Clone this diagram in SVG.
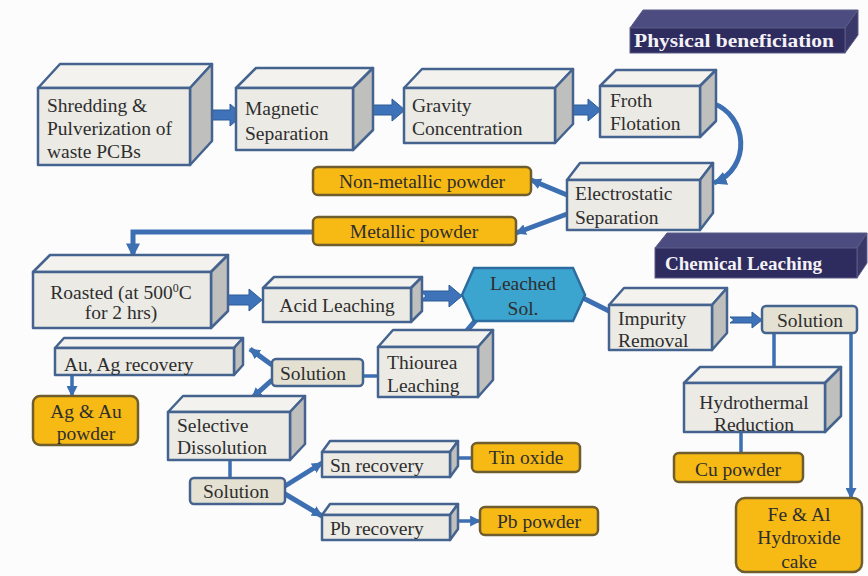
<svg xmlns="http://www.w3.org/2000/svg" width="868" height="576" viewBox="0 0 868 576">
<defs>
<style>
.fr{fill:#ebeae4;stroke:#44638f;stroke-width:2.5;stroke-linejoin:round}
.tp{fill:#f3f2ee;stroke:#44638f;stroke-width:2.5;stroke-linejoin:round}
.sd{fill:#bfbfbd;stroke:#44638f;stroke-width:2.5;stroke-linejoin:round}
.nf{fill:#2e2b5e;stroke:#5a5a86;stroke-width:1}
.nt{fill:#4d4c80;stroke:#5a5a86;stroke-width:1}
.ns{fill:#3a3868;stroke:#5a5a86;stroke-width:1}
.or{fill:#f7b913;stroke:#6e5d2f;stroke-width:2.5}
.so{fill:#e4e1d3;stroke:#44638f;stroke-width:2.5}
.t{font-family:'Liberation Serif','DejaVu Serif','Times New Roman',serif;font-size:19.5px;fill:#2e2e2e}
.c{text-anchor:middle}
.w{font-family:'Liberation Serif','DejaVu Serif','Times New Roman',serif;font-size:19px;font-weight:bold;fill:#f4f2f6}
.ln{fill:none;stroke:#3d6fb3;stroke-width:5;stroke-linecap:butt}
.th{fill:none;stroke:#3d6fb3;stroke-width:3.5}
.ba{fill:#3f73b9;stroke:#2d5a96;stroke-width:1}
</style>
<marker id="ah" viewBox="0 0 10 10" refX="9" refY="5" markerWidth="11" markerHeight="11" markerUnits="userSpaceOnUse" orient="auto">
<path d="M0,0 L10,5 L0,10 z" fill="#3d6fb3"/>
</marker>
<marker id="ahb" viewBox="0 0 10 10" refX="9" refY="5" markerWidth="14" markerHeight="14" markerUnits="userSpaceOnUse" orient="auto">
<path d="M0,0 L10,5 L0,10 z" fill="#3d6fb3"/>
</marker>
</defs>
<rect width="868" height="576" fill="#fcfcfc"/>

<g id="connectors">
<polygon class="ba" points="197,110 230,110 230,104 243,115 230,126 230,120 197,120 203,115"/>
<polygon class="ba" points="363,105 392,105 392,99 405,110 392,121 392,115 363,115 369,110"/>
<polygon class="ba" points="564,105 588,105 588,99 601,110 588,121 588,115 564,115 570,110"/>
<polygon class="ba" points="218,295 249,295 249,289 262,300 249,311 249,305 218,305 224,300"/>
<polygon class="ba" points="420,291 449,291 449,285 462,296 449,307 449,301 420,301 426,296"/>
<polygon class="ba" points="730,317 752,317 752,312 762,320 752,328 752,323 730,323 734,320"/>
<path class="ln" d="M712,103 C748,115 752,168 714,183" marker-end="url(#ahb)"/>
<path class="ln" d="M567,195 L531,180" marker-end="url(#ah)"/>
<path class="ln" d="M567,214 L516,233" marker-end="url(#ah)"/>
<path class="ln" d="M313,232 L133,232 L133,256" marker-end="url(#ahb)"/>
<path class="ln" d="M583,298 L609,311"/>
<path class="ln" d="M476,320 L458,341" marker-end="url(#ah)"/>
<path class="th" d="M378,376 L363,376"/>
<path class="ln" d="M272,365 L250,349" marker-end="url(#ah)"/>
<path class="ln" d="M272,380 L252,398" marker-end="url(#ah)"/>
<path class="th" d="M72,375 L72,396" marker-end="url(#ah)"/>
<path class="th" d="M230,460 L230,478"/>
<path class="ln" d="M285,486 L322,463" marker-end="url(#ah)"/>
<path class="ln" d="M285,494 L322,516" marker-end="url(#ah)"/>
<path class="th" d="M458,458 L472,458"/>
<path class="th" d="M458,521 L480,521" marker-end="url(#ah)"/>
<path class="th" d="M774,332 L774,378" marker-end="url(#ah)"/>
<path class="th" d="M851,332 L851,498" marker-end="url(#ah)"/>
<path class="th" d="M741,432 L741,453"/>
</g>

<g id="physical-beneficiation">
<polygon class="nt" points="630,28 643,10 858,10 845,28"/>
<polygon class="ns" points="845,28 858,10 858,35 845,53"/>
<rect class="nf" x="630" y="28" width="215" height="25"/>
<text class="w" x="634" y="47" textLength="200" lengthAdjust="spacingAndGlyphs">Physical beneficiation</text>
</g>

<g id="chemical-leaching">
<polygon class="nt" points="655,248 667,233 867,233 857,248"/>
<polygon class="ns" points="857,248 867,233 867,263 857,278"/>
<rect class="nf" x="655" y="248" width="202" height="30"/>
<text class="w" x="665" y="270" textLength="157" lengthAdjust="spacingAndGlyphs">Chemical Leaching</text>
</g>

<g id="shredding">
<polygon class="tp" points="38,88 60,64 212,64 190,88"/>
<polygon class="sd" points="190,88 212,64 212,141 190,165"/>
<rect class="fr" x="38" y="88" width="152" height="77"/>
<text class="t" x="47" y="112">Shredding &amp;</text>
<text class="t" x="47" y="135">Pulverization of</text>
<text class="t" x="47" y="158">waste PCBs</text>
</g>

<g id="magnetic">
<polygon class="tp" points="236,88 256,68 373,68 353,88"/>
<polygon class="sd" points="353,88 373,68 373,130 353,150"/>
<rect class="fr" x="236" y="88" width="117" height="62"/>
<text class="t" x="245" y="115">Magnetic</text>
<text class="t" x="245" y="140">Separation</text>
</g>

<g id="gravity">
<polygon class="tp" points="404,88 422,69 573,69 555,88"/>
<polygon class="sd" points="555,88 573,69 573,124 555,143"/>
<rect class="fr" x="404" y="88" width="151" height="55"/>
<text class="t" x="412" y="112">Gravity</text>
<text class="t" x="412" y="135">Concentration</text>
</g>

<g id="froth">
<polygon class="tp" points="600,86 616,70 716,70 700,86"/>
<polygon class="sd" points="700,86 716,70 716,121 700,137"/>
<rect class="fr" x="600" y="86" width="100" height="51"/>
<text class="t" x="610" y="107">Froth</text>
<text class="t" x="610" y="130">Flotation</text>
</g>

<g id="electrostatic">
<polygon class="tp" points="567,180 580,163 713,163 700,180"/>
<polygon class="sd" points="700,180 713,163 713,213 700,230"/>
<rect class="fr" x="567" y="180" width="133" height="50"/>
<text class="t" x="575" y="200">Electrostatic</text>
<text class="t" x="575" y="224">Separation</text>
</g>

<g id="non-metallic">
<rect class="or" x="313" y="167" width="218" height="28" rx="5"/>
<text class="t c" x="422" y="188">Non-metallic powder</text>
</g>

<g id="metallic">
<rect class="or" x="313" y="217" width="203" height="28" rx="5"/>
<text class="t c" x="414" y="238">Metallic powder</text>
</g>

<g id="roasted">
<polygon class="tp" points="33,272 50,255 228,255 211,272"/>
<polygon class="sd" points="211,272 228,255 228,311 211,328"/>
<rect class="fr" x="33" y="272" width="178" height="56"/>
<text class="t c" x="121" y="299">Roasted (at 500<tspan font-size="12" dy="-7">0</tspan><tspan dy="7">C</tspan></text>
<text class="t c" x="121" y="319">for 2 hrs)</text>
</g>

<g id="acid-leaching">
<polygon class="tp" points="263,288 274,277 422,277 411,288"/>
<polygon class="sd" points="411,288 422,277 422,311 411,322"/>
<rect class="fr" x="263" y="288" width="148" height="34"/>
<text class="t c" x="337" y="312">Acid Leaching</text>
</g>

<g id="leached-sol">
<polygon points="462,295 474,268 573,268 585,295 573,321 474,321" fill="#3ba5cf" stroke="#2d6c9e" stroke-width="2.5"/>
<text class="t c" x="523" y="290" fill="#333">Leached</text>
<text class="t c" x="523" y="315" fill="#333">Sol.</text>
</g>

<g id="impurity">
<polygon class="tp" points="609,305 624,288 727,288 712,305"/>
<polygon class="sd" points="712,305 727,288 727,333 712,350"/>
<rect class="fr" x="609" y="305" width="103" height="45"/>
<text class="t" x="618" y="325">Impurity</text>
<text class="t" x="618" y="347">Removal</text>
</g>

<g id="solution-right">
<rect class="so" x="762" y="306" width="95" height="27" rx="4"/>
<text class="t c" x="810" y="327">Solution</text>
</g>

<g id="hydrothermal">
<polygon class="tp" points="684,383 700,367 841,367 825,383"/>
<polygon class="sd" points="825,383 841,367 841,416 825,432"/>
<rect class="fr" x="684" y="383" width="141" height="49"/>
<text class="t c" x="754" y="409">Hydrothermal</text>
<text class="t c" x="754" y="431">Reduction</text>
</g>

<g id="cu-powder">
<rect class="or" x="674" y="453" width="129" height="29" rx="5"/>
<text class="t c" x="738" y="476">Cu powder</text>
</g>

<g id="fe-al">
<rect class="or" x="736" y="498" width="126" height="74" rx="9"/>
<text class="t c" x="799" y="521">Fe &amp; Al</text>
<text class="t c" x="799" y="544">Hydroxide</text>
<text class="t c" x="799" y="568">cake</text>
</g>

<g id="thiourea">
<polygon class="tp" points="378,347 393,330 493,330 478,347"/>
<polygon class="sd" points="478,347 493,330 493,380 478,397"/>
<rect class="fr" x="378" y="347" width="100" height="50"/>
<text class="t" x="387" y="369">Thiourea</text>
<text class="t" x="387" y="392">Leaching</text>
</g>

<g id="solution-mid">
<rect class="so" x="272" y="359" width="91" height="27" rx="4"/>
<text class="t c" x="313" y="380">Solution</text>
</g>

<g id="au-ag-recovery">
<polygon class="tp" points="55,348 64,338 243,338 234,348"/>
<polygon class="sd" points="234,348 243,338 243,365 234,375"/>
<rect class="fr" x="55" y="348" width="179" height="27"/>
<text class="t" x="64" y="371">Au, Ag recovery</text>
</g>

<g id="ag-au-powder">
<rect class="or" x="33" y="396" width="105" height="49" rx="7"/>
<text class="t c" x="86" y="418">Ag &amp; Au</text>
<text class="t c" x="86" y="440">powder</text>
</g>

<g id="selective">
<polygon class="tp" points="168,412 183,396 305,396 290,412"/>
<polygon class="sd" points="290,412 305,396 305,444 290,460"/>
<rect class="fr" x="168" y="412" width="122" height="48"/>
<text class="t" x="177" y="432">Selective</text>
<text class="t" x="177" y="454">Dissolution</text>
</g>

<g id="solution-bottom">
<rect class="so" x="190" y="478" width="95" height="26" rx="4"/>
<text class="t c" x="236" y="498">Solution</text>
</g>

<g id="sn-recovery">
<polygon class="tp" points="322,452 330,441 458,441 450,452"/>
<polygon class="sd" points="450,452 458,441 458,466 450,477"/>
<rect class="fr" x="322" y="452" width="128" height="25"/>
<text class="t" x="330" y="472">Sn recovery</text>
</g>

<g id="pb-recovery">
<polygon class="tp" points="322,515 330,504 458,504 450,515"/>
<polygon class="sd" points="450,515 458,504 458,529 450,540"/>
<rect class="fr" x="322" y="515" width="128" height="25"/>
<text class="t" x="330" y="535">Pb recovery</text>
</g>

<g id="tin-oxide">
<rect class="or" x="472" y="443" width="108" height="29" rx="5"/>
<text class="t c" x="526" y="464">Tin oxide</text>
</g>

<g id="pb-powder">
<rect class="or" x="480" y="507" width="118" height="28" rx="5"/>
<text class="t c" x="539" y="528">Pb powder</text>
</g>
</svg>
